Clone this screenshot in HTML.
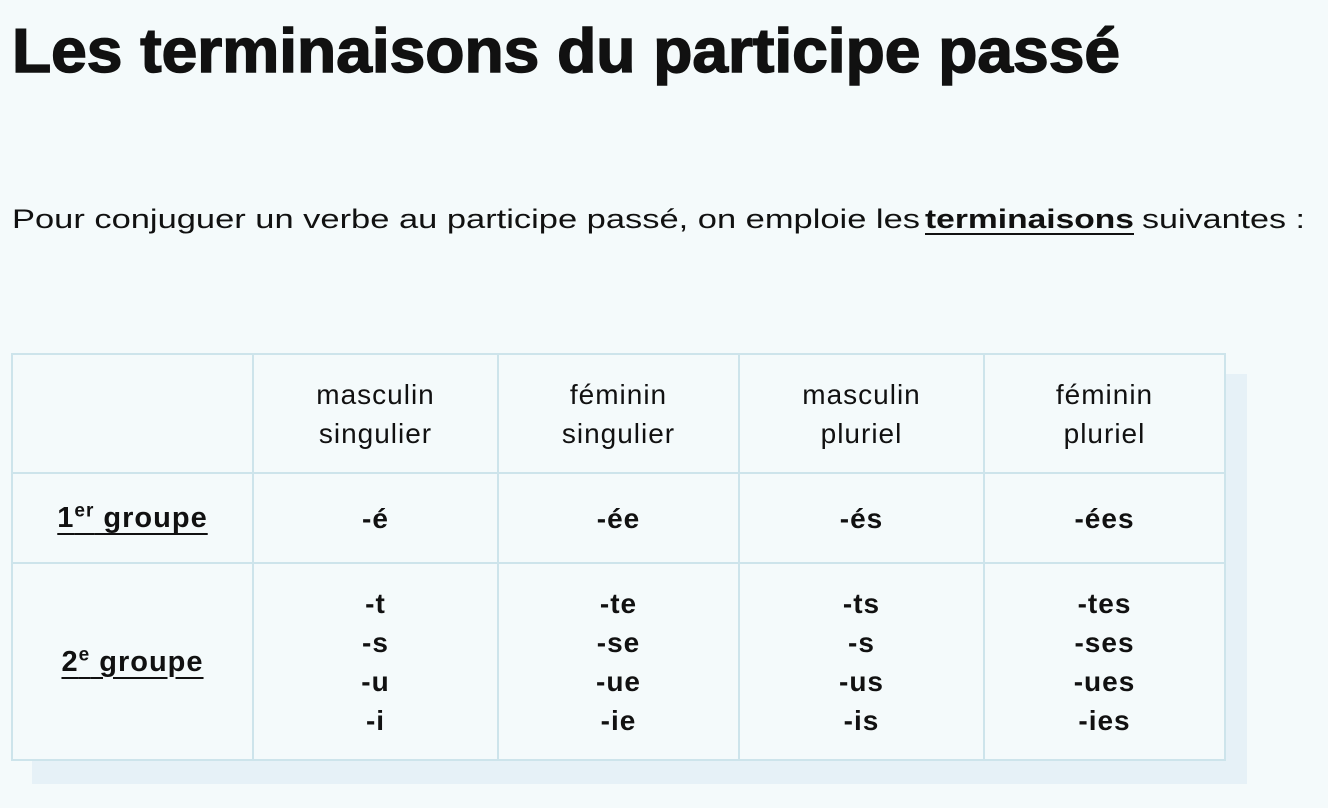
<!DOCTYPE html>
<html><head><meta charset="utf-8"><style>
body{margin:0;width:1328px;height:808px;background:#f4fafb;font-family:"Liberation Sans",sans-serif;color:#111;position:relative;overflow:hidden}
.shadow{position:absolute;left:32px;top:374px;width:1215px;height:410px;background:#e6f1f7}
table{position:absolute;left:11px;top:353px;width:1214px;table-layout:fixed;border-collapse:collapse;background:#f4fafb}
td{border:2px solid #cde4eb;text-align:center;font-size:28px;line-height:39px;padding:0;letter-spacing:1px}
.h td{height:117px;font-weight:normal}
.r1 td{height:88px;font-weight:bold}
.r2 td{height:195px;font-weight:bold}
.g{text-decoration:underline;text-underline-offset:6px;text-decoration-thickness:2px;font-size:29px}
sup{font-size:19px;line-height:0}
</style></head><body>
<svg style="position:absolute;left:0;top:0" width="1328" height="300">
<text x="12" y="72" font-family="Liberation Sans" font-weight="bold" font-size="62" textLength="1108" lengthAdjust="spacingAndGlyphs" fill="#111" stroke="#111" stroke-width="1.5">Les terminaisons du participe passé</text>
<text x="12" y="228" font-family="Liberation Sans" font-size="27" fill="#111" textLength="908" lengthAdjust="spacingAndGlyphs">Pour conjuguer un verbe au participe passé, on emploie les</text>
<text x="925" y="228" font-family="Liberation Sans" font-weight="bold" font-size="27" fill="#111" textLength="209" lengthAdjust="spacingAndGlyphs">terminaisons</text>
<rect x="925" y="233" width="209" height="2" fill="#111"/>
<text x="1142" y="228" font-family="Liberation Sans" font-size="27" fill="#111" textLength="163" lengthAdjust="spacingAndGlyphs">suivantes :</text>
</svg>
<div class="shadow"></div>
<table>
<colgroup><col style="width:241px"><col style="width:245px"><col style="width:241px"><col style="width:245px"><col style="width:241px"></colgroup>
<tr class="h"><td></td><td>masculin<br>singulier</td><td>féminin<br>singulier</td><td>masculin<br>pluriel</td><td>féminin<br>pluriel</td></tr>
<tr class="r1"><td><span class="g">1<sup>er</sup> groupe</span></td><td>-é</td><td>-ée</td><td>-és</td><td>-ées</td></tr>
<tr class="r2"><td><span class="g">2<sup>e</sup> groupe</span></td><td>-t<br>-s<br>-u<br>-i</td><td>-te<br>-se<br>-ue<br>-ie</td><td>-ts<br>-s<br>-us<br>-is</td><td>-tes<br>-ses<br>-ues<br>-ies</td></tr>
</table>
</body></html>
